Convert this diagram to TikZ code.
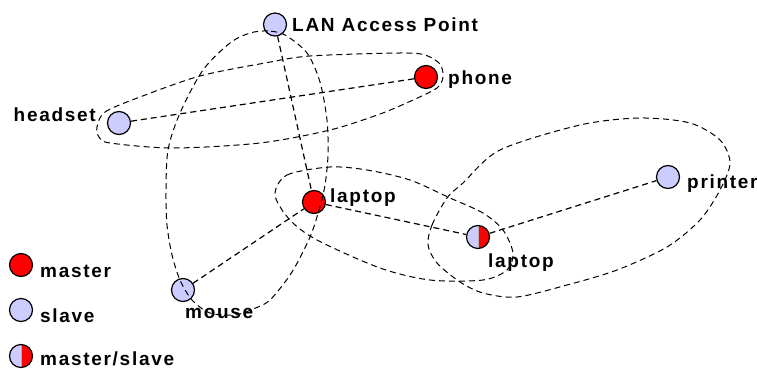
\documentclass[tikz,border=0pt]{standalone}
\usepackage{fontspec}
\newfontfamily\lab{Liberation Sans}[LetterSpace=9]
\definecolor{slavecol}{RGB}{204,204,255}
\definecolor{mastercol}{RGB}{255,0,0}
\tikzset{
  dev/.style={circle, draw=black, line width=1.2pt, minimum size=23pt, inner sep=0pt},
  slavedev/.style={dev, fill=slavecol},
  masterdev/.style={dev, fill=mastercol},
  msdev/.style={dev, path picture={
     \fill[slavecol] (path picture bounding box.south west) rectangle (path picture bounding box.north);
     \fill[mastercol] (path picture bounding box.south) rectangle (path picture bounding box.north east);
     \draw[gray!60, line width=0.8pt] (path picture bounding box.south) -- (path picture bounding box.north);}},
  lbl/.style={inner sep=0pt, font=\lab\bfseries\fontsize{19}{22}\selectfont},
  link/.style={draw=black, line width=1.2pt, dash pattern=on 6pt off 4pt},
  net/.style={draw=black, line width=1pt, dash pattern=on 6pt off 4pt}
}
\begin{document}
\begin{tikzpicture}[x=1pt,y=-1pt]
\useasboundingbox (0,0) rectangle (757,369);
% devices
\node[slavedev]  (lan)     at (275,24.5) {};
\node[masterdev] (phone)   at (426,77)   {};
\node[slavedev]  (headset) at (119,123)  {};
\node[masterdev] (lapA)    at (314,202)  {};
\node[msdev]     (lapB)    at (478,237)  {};
\node[slavedev]  (printer) at (668,177)  {};
\node[slavedev]  (mouse)   at (183,290)  {};
% legend
\node[masterdev] (legM)  at (21,265) {};
\node[slavedev]  (legS)  at (21,310) {};
\node[msdev]     (legMS) at (21,356) {};
% labels
\node[lbl, anchor=base west] (lanL)     at (292,32)  {LAN Access Point};
\node[lbl, anchor=base west] (phoneL)   at (448,84)  {phone};
\node[lbl, anchor=base east] (headsetL) at (96,121)  {headset};
\node[lbl, anchor=base west] (lapAL)    at (330,202) {laptop};
\node[lbl, anchor=base west] (lapBL)    at (488,267) {laptop};
\node[lbl, anchor=base west] (printerL) at (687,188) {printer};
\node[lbl, anchor=base west] (mouseL)   at (185,318) {mouse};
\node[lbl, anchor=base west] (legML)    at (40,277)  {master};
\node[lbl, anchor=base west] (legSL)    at (40,322)  {slave};
\node[lbl, anchor=base west] (legMSL)   at (40,365)  {master/slave};
% links
\draw[link] (headset) -- (phone);
\draw[link] (lan) -- (lapA);
\draw[link] (lapA) -- (lapB);
\draw[link] (lapB) -- (printer);
\draw[link] (mouse) -- (lapA);
% piconets
\draw[net] plot[smooth cycle] coordinates {(97,127) (105,112) (140,97) (200,76) (265,63) (310,56) (400,53) (425,55) (440,64) (443,77) (437,88) (413,100) (380,114) (330,130) (260,143) (173,148) (110,143) (99,137)};
\draw[net] plot[smooth cycle] coordinates {(285,35) (268,31) (250,33) (230,43) (203,70) (180,113) (168,150) (166,193) (167,225) (172,255) (180,280) (192,300) (210,313) (235,315) (253,309) (270,300) (292,272) (310,237) (319,210) (325,185) (328,155) (327,120) (320,82) (307,53)};
\draw[net] plot[smooth cycle] coordinates {(275,195) (287,175) (330,167) (367,170) (410,180) (450,198) (483,213) (503,230) (513,253) (507,270) (483,280) (430,280) (380,268) (317,240) (290,220)};
\draw[net] plot[smooth cycle] coordinates {(428,245) (432,225) (447,198) (463,183) (500,150) (580,125) (640,118) (690,123) (720,140) (730,163) (720,190) (700,220) (667,247) (617,270) (567,285) (517,297) (483,293) (460,282) (437,263)};
\end{tikzpicture}
\end{document}
